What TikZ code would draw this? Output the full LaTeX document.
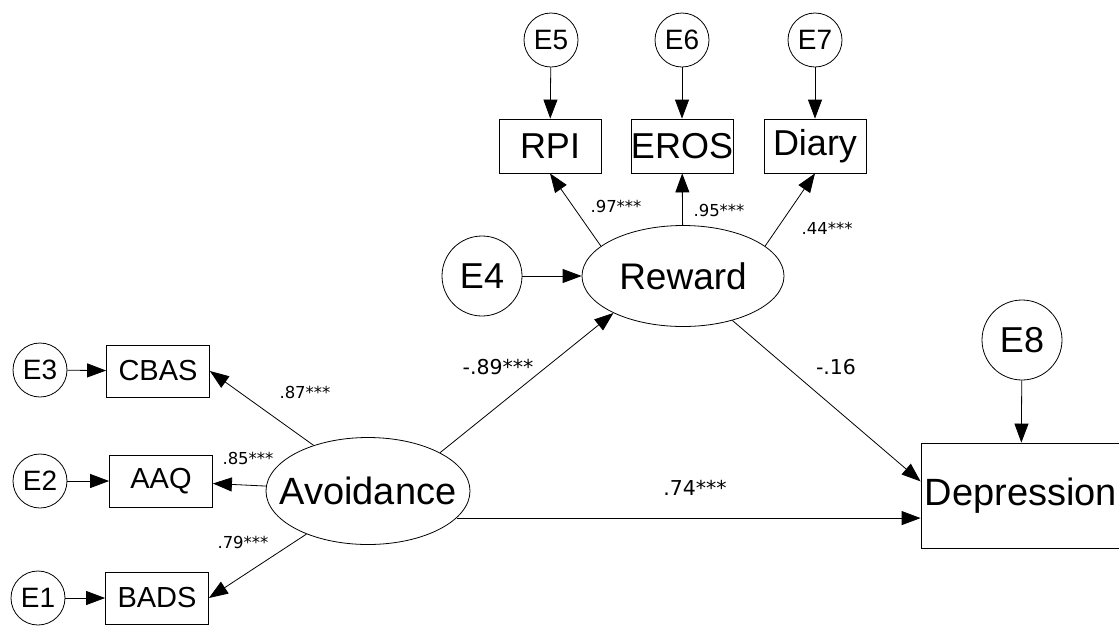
\documentclass[tikz,border=0pt]{standalone}
\usepackage{fontspec}
\setmainfont{Liberation Sans}
\newfontfamily\labfont{DejaVu Sans}
\usepackage{tikz}
\usetikzlibrary{arrows.meta}
\usetikzlibrary{shapes.geometric}

\begin{document}
\begin{tikzpicture}[x=1pt, y=-1pt, >={Triangle[length=19pt, width=14pt]}, line width=0.8pt]
	\tikzstyle{err} = [draw, circle, minimum size=54pt, inner sep=0pt, font=\fontsize{28}{30}\selectfont]
	\tikzstyle{bigerr} = [draw, circle, minimum size=80pt, inner sep=0pt, font=\fontsize{36}{38}\selectfont]
	\tikzstyle{obs} = [draw, minimum width=103pt, minimum height=52pt, inner sep=0pt, font=\fontsize{29}{31}\selectfont]
	\tikzstyle{bigobs} = [draw, minimum width=102pt, minimum height=54pt, inner sep=0pt, font=\fontsize{36}{38}\selectfont]
	\tikzstyle{lat} = [draw, ellipse, inner sep=0pt, font=\fontsize{38}{40}\selectfont]
	\tikzstyle{load} = [inner sep=0pt, font=\labfont\fontsize{16.5}{18}\selectfont]
	\tikzstyle{coef} = [inner sep=0pt, font=\labfont\fontsize{20.5}{22}\selectfont]
	\useasboundingbox (0,0) rectangle (1119,625);
	\begin{scope}
	  \path[->]
	  node[err] (E3) at (40,370) {E3}
	  node[err] (E2) at (40,481) {E2}
	  node[err] (E1) at (38,598) {E1}
	  node[obs] (CBAS) at (158,371) {CBAS}
	  node[obs] (AAQ) at (161,481) {AAQ}
	  node[obs] (BADS) at (157,598) {BADS}
	  node[lat, minimum width=204pt, minimum height=107pt] (Avoid) at (368,491) {\makebox[0pt]{Avoidance}}
	  node[err] (E5) at (551,40) {E5}
	  node[err] (E6) at (682,40) {E6}
	  node[err] (E7) at (815,40) {E7}
	  node[bigobs] (RPI) at (550,146) {RPI}
	  node[bigobs] (EROS) at (682,146) {EROS}
	  node[bigobs] (Diary) at (815,146) {Diary}
	  node[bigerr] (E4) at (482,276) {E4}
	  node[lat, minimum width=202pt, minimum height=101pt, font=\fontsize{37}{39}\selectfont] (Reward) at (683,276) {\makebox[0pt]{Reward}}
	  node[bigerr] (E8) at (1022,340) {E8}
	  node[draw, minimum width=200pt, minimum height=105pt, inner sep=0pt, font=\fontsize{38}{40}\selectfont] (Depr) at (1021,495.5) {Depression}
	  node[load] (l97) at (616,206) {.97***}
	  node[load] (l95) at (719,210) {.95***}
	  node[load] (l44) at (827,228) {.44***}
	  node[load] (l87) at (305,392) {.87***}
	  node[load] (l85) at (248,458) {.85***}
	  node[load] (l79) at (243,542) {.79***}
	  node[coef] (l89) at (498,367) {-.89***}
	  node[coef] (l16) at (836,367) {-.16}
	  node[coef] (l74) at (695,488) {.74***}
	  (E3) edge (CBAS)
	  (E2) edge (AAQ)
	  (E1) edge (BADS)
	  (E5) edge (RPI)
	  (E6) edge (EROS)
	  (E7) edge (Diary)
	  (E4) edge (Reward)
	  (E8) edge (Depr)
	  (Avoid.140) edge (CBAS.east)
	  (Avoid) edge (AAQ)
	  (Avoid.215) edge (BADS.east)
	  (Reward.160) edge (RPI.south)
	  (Reward) edge (EROS)
	  (Reward.20) edge (Diary.south)
	  (Avoid.28) edge (Reward.208)
	  (Avoid.-17) edge (Avoid.-17 -| Depr.west)
	  (Reward.-42) edge (Depr.172)
	  ;
	\end{scope}
\end{tikzpicture}
\end{document}
